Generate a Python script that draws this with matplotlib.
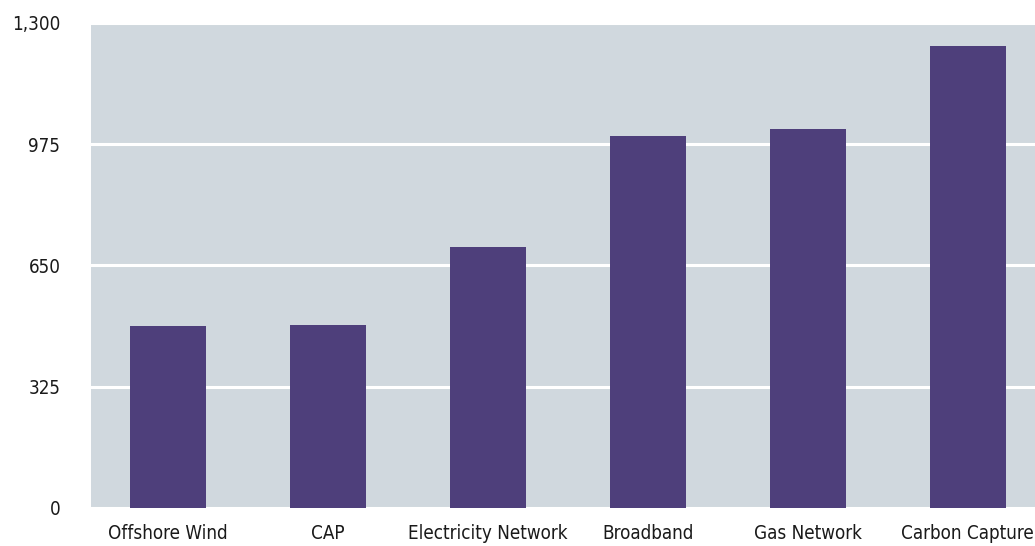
import matplotlib.pyplot as plt

categories = ["Offshore Wind", "CAP", "Electricity Network", "Broadband", "Gas Network", "Carbon Capture"]
values = [487, 490, 699, 997, 1015, 1238]
yticks = [0, 325, 650, 975, 1300]
ytick_labels = ["0", "325", "650", "975", "1,300"]

plt.rcParams["font.family"] = ["DejaVu Sans"]
plt.rcParams["font.stretch"] = "condensed"

fig = plt.figure(figsize=(10.35, 5.46), dpi=100)
ax = fig.add_axes([91 / 1035, 1 - 507.7 / 546, 1 - 91 / 1035, (507.7 - 22.9) / 546])
ax.set_facecolor("#d0d8de")

x = [i for i in range(len(categories))]
ax.bar(x, values, width=0.475, color="#4e3f7b", zorder=3)

ax.set_xlim(-0.48, 5.42)
ax.set_ylim(0, 1300)
ax.set_yticks(yticks)
ax.set_yticklabels(ytick_labels)
ax.set_xticks(x)
ax.set_xticklabels(categories)
ax.grid(axis="y", color="white", linewidth=2.2, zorder=1)
ax.set_axisbelow(True)
ax.tick_params(axis="both", length=0, labelsize=13.5, colors="#1a1a1a")
ax.tick_params(axis="y", pad=22)
ax.tick_params(axis="x", pad=12)
for s in ax.spines.values():
    s.set_visible(False)

fig.savefig("out.png", dpi=100, facecolor="white")
